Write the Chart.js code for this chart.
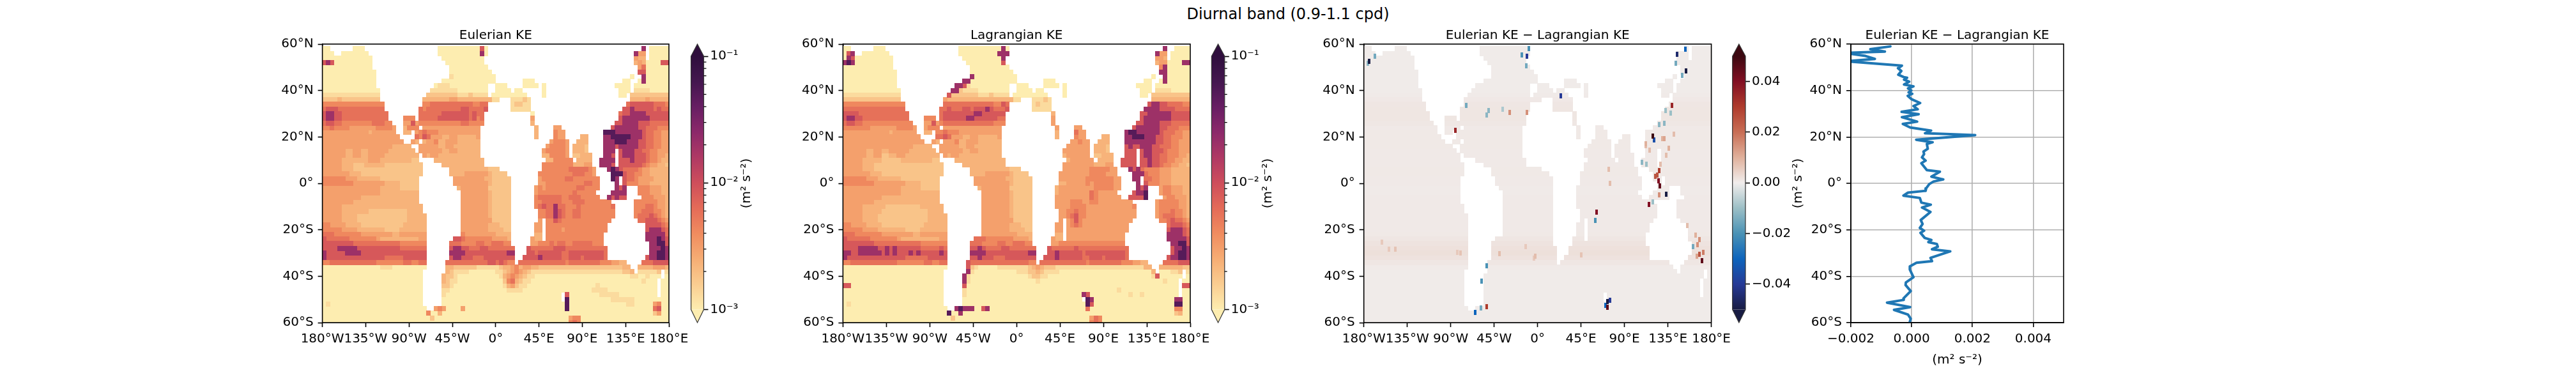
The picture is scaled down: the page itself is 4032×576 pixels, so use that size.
<!DOCTYPE html>
<html>
<head>
<meta charset="utf-8">
<title>Diurnal band</title>
<script src="https://cdn.jsdelivr.net/npm/chart.js@4"></script>
<style>
    html, body { margin: 0; background: #fff; width: 4032px; height: 576px; overflow: hidden; }
    canvas { position: absolute; top: 0; }
    #suptitle { position: absolute; left: 0; width: 4032px; top: 8px; text-align: center;
        font: 24px "DejaVu Sans"; line-height: 28px; color: #000; }
</style>
</head>
<body>
<div id="suptitle">Diurnal band (0.9-1.1 cpd)</div>
<canvas id="map1"></canvas><canvas id="bar1"></canvas>
<canvas id="map2"></canvas><canvas id="bar2"></canvas>
<canvas id="map3"></canvas><canvas id="bar3"></canvas>
<canvas id="profile"></canvas>
<script>
const lonTicks = [-180, -135, -90, -45, 0, 45, 90, 135, 180];
const lonLabels = ['180°W', '135°W', '90°W', '45°W', '0°', '45°E', '90°E', '135°E', '180°E'];
const latTicks = [-60, -40, -20, 0, 20, 40, 60];
const latLabels = ['60°S', '40°S', '20°S', '0°', '20°N', '40°N', '60°N'];
const keTicks = [0.001, 0.01, 0.1];
const keLabels = ['10⁻³', '10⁻²', '10⁻¹'];
const keMinorTicks = [0.002, 0.003, 0.004, 0.005, 0.006, 0.007, 0.008, 0.009, 0.02, 0.03, 0.04, 0.05, 0.06, 0.07, 0.08, 0.09];
const diffTicks = [-0.04, -0.02, 0, 0.02, 0.04];
const diffLabels = ['−0.04', '−0.02', '0.00', '0.02', '0.04'];
const profileTicks = [-0.002, 0, 0.002, 0.004];
const profileLabels = ['−0.002', '0.000', '0.002', '0.004'];

// colormaps, low to high
const matterStops = ['#fdedb0', '#facd91', '#f6ad74', '#f08c5f', '#e46b58', '#ce4e5b', '#af3964', '#8c296a', '#671e63', '#44174f', '#2f0f3d'];
const balanceStops = ['#181c43', '#263a96', '#0d64bc', '#4a92b5', '#9cbfc6', '#f1edec', '#e0b19c', '#c86e55', '#af3c2d', '#820f23', '#3c0911'];

// KE of each digit in the rows below, '.' is land
const keLevels = [0.001, 0.0013, 0.0018, 0.0023, 0.003, 0.0042, 0.0058, 0.0085, 0.02, 0.05];

// rows run from 58N to 60S every 2 degrees, columns from 178W to 178E every 4 degrees
const keEulerRows = [
    '00......00 0......... .......... 0000000000 070....... .......... .......... .......... ...8.00000',
    '000..00000 00........ .......... 0000000000 080....... .......... .......... .......... .844.00000',
    '0000000000 000....... .......... .000000000 00........ .......... .......... .......... .433.00000',
    '7870000000 000....... .......... ..00000000 00........ .......... .......... .......... .343000077',
    '0000000000 000....... .......... ...0000000 000....... .......... .......... .......... ..46000000',
    '0000000000 0000...... .......... ...0000000 0000...... .......... .......... .......... ..77000000',
    '0000000000 0000...... .......... ...1000000 00000..... .......... .......... .......... 0..8000000',
    '0000000000 0000...... .......... .000000000 00000..... ..000..... .......... ........00 ..08000000',
    '0000000000 0000...... .........0 1110000000 000..000.. ..0000.0.. .......... ......0000 .000000000',
    '0000000000 00000..... ........11 1111100000 000..0000. 00.....0.. .......... .......000 .111100000',
    '1111111111 11111..... .......222 2222211121 111.000000 000....0.. .......... .......00. 2222222222',
    '2222322222 22222..... ......3333 3334433333 333311...1 1121...... .......... .......... 3333433333',
    '5555555555 555555.... ......5566 6666666665 566......1 2211...... .......... .........6 7777776665',
    '6777666666 666666.... .....65666 6666667766 667......1 1111...... .......... ........77 8777776766',
    '7887766666 6666666... .....66666 6777777767 66........ ....0..... .......... .......677 8888777777',
    '7887766666 6666666... .555.66666 7777777767 56........ ....4..... .......... .......788 8888877777',
    '6776655555 55566655.. .447455555 5555556655 55........ ....3..... .......... ......7788 8877766666',
    '5565555444 444455554. .3555.4444 4444444444 4......... .....3.... 44........ .....78888 8877666555',
    '4444444444 443444444. .33.456555 4444444444 4......... .....3.... 544....... ...9998888 8887665544',
    '4444444444 4444444444 ....657644 4334433333 4......... .....3.... 544....33. ...8899999 8887665544',
    '4444444444 4444444444 4..43.3445 3344433333 3......... .........4 5554..333. ...8889998 8877665544',
    '4444444444 4444444433 333..44444 3344333333 3......... ........45 5554.3332. ...8887888 8877665544',
    '4444443344 3344444333 3333.44444 4334433333 3......... .......455 5554.3332. ...888.788 8776655444',
    '4444443344 3344443333 33333.4344 3333333333 3......... .......335 5554.22333 ...887.788 8777655443',
    '4444433333 3344433333 33322....3 3333333333 33........ ........33 55555.3333 ..8888.777 8777655433',
    '4444433322 2333332222 222222.... .333333333 33........ .......555 5555533344 ..8887.777 7776544332',
    '4444433322 2222222222 222222.... ...3333333 333222.... .......555 5555666665 4...898766 6654433333',
    '4444444333 2222222222 222222.... ...3333444 44432222.. ......5555 5555566655 4....99976 6554433333',
    '5555554443 3333322222 22222..... ....444444 443322222. ......4555 5556655555 55...98.76 6544443333',
    '5555555544 4444443333 22222..... ....444444 444322222. ......4455 5555555566 55....8.75 5544433333',
    '4444444444 4444433333 22222..... .....34444 444222222. .....45455 5555556655 55....878. ..55544433',
    '4444444444 4444433333 33333..... ......4444 444322222. .....45555 5555565555 5....8888. ..55544433',
    '4444444444 3333333333 33333..... ......4444 444322222. .....56666 6655666555 55..87877. ...5554443',
    '4444444433 3333333333 33333..... ......4444 444322222. .....55666 6655566655 55555..... .555555443',
    '4444433333 3333333333 333333.... ......4444 444322222. .....56766 8665556555 555556.... .555665443',
    '4444433333 3322222222 223333.... ......4444 444322222. ......5566 8765566555 555555.... .556665543',
    '4444433332 2222222222 2233333... ......4444 444322222. ......5566 8765566555 555555.... .566676543',
    '4444433332 2222222222 2233333... ......4444 444422222. ......4.55 7655555555 55555..... ..66777654',
    '5544443333 2222222222 2333333... ......4444 444333222. .....44.55 5555555555 5555...... ....777765',
    '5555544443 3333332222 3333333... ......4444 444333322. .....44.55 5545555555 5555...... ....788876',
    '6665555555 4444444433 4444444... ......5444 444443333. .....33.55 5555555555 555....... ....888886',
    '7666666555 5555433333 3333344... ....776555 555544443. ....433.55 5555555555 555....... ....888987',
    '7777777766 6666666666 5555555... ...6665555 665566655. ....445556 5665566666 555....... .....88997',
    '7777888887 7777777777 6666666... ...7887766 6776666666 ...7666666 7776666666 6666...... .....88898',
    '8777778888 7777777777 7777777... ...8888777 7777777788 ...7767777 7766777777 7776...... .....88998',
    '8777777777 7777776666 6777777... ...7887776 6677777777 ..77778777 7766777677 7776...... ....788998',
    '5566666666 6666555555 5665566... ..66666666 6667767655 .666666666 6665666666 665554433. ...6667777',
    '0000000000 0000011100 0000000... ..33222222 1111112334 5344332222 2222222222 2222222233 ..33334443',
    '0000000000 0000000000 000000.... ..32111100 0000011234 5432111111 1111111111 1111111122 3.111112.1',
    '0000000000 0000000000 000000.... .322100000 0000001345 4321100000 0000000000 0000000000 11001000.0',
    '0000000000 0000000000 000000.... .321100000 0000000256 3211000000 0000000000 0000000000 0001000.00',
    '0000000000 0000000000 000000.... .221000000 0000000134 2110000000 0000000000 0100000000 0000000.00',
    '0000000000 0000000000 000000.... .110000000 0000000011 1100000000 0000000000 1111000000 0000000.00',
    '0000000000 0000000000 000000.... .100000000 0000000000 0000000000 00.7000000 0011111000 0000000.00',
    '0000000000 0000000000 000000.... .000000000 0000000000 0000000000 00.9000000 0000011111 1000000000',
    '0100000000 0000000000 000000.... .000000000 0000000000 0000000000 0009000000 0000000001 1000004500',
    '0000000000 0000000000 0000000..4 5400004000 0000000000 0000000000 0009000000 0000000000 0000006700',
    '0000000000 0000000000 0000000500 3000000000 0000000000 0000000000 0000000000 0000000000 0000002400',
    '0000000000 0000000000 0000000020 0000000000 0000000000 0000000000 0000455000 0000000000 0000000000',
    '0000000000 0000000000 0000000000 0000000000 0000000000 0000000000 0000565000 0000000000 0000000000',
];

const keLagrRows = [
    '00......00 0......... .......... 0000000000 080....... .......... .......... .......... ...8..0000',
    '078..00000 00........ .......... 0000000000 888....... .......... .......... .......... .844.00000',
    '0870000000 000....... .......... .000000000 08........ .......... .......... .......... .443.00000',
    '8980000000 000....... .......... ..00000000 07........ .......... .......... .......... .344000088',
    '0000000000 000....... .......... ...0000000 000....... .......... .......... .......... ..58000000',
    '0000000000 0000...... .......... ...0000000 0000...... .......... .......... .......... ..88000000',
    '0000000000 0000...... .......... ...8000000 00000..... .......... .......... .......... 0..8000000',
    '0000000000 0000...... .......... .880000000 00000..... ..000..... .......... ........00 ..08000000',
    '0000000000 0000...... .........8 8710000000 000..000.. ..0000.0.. .......... ......0000 .000000000',
    '0000000000 00000..... ........88 2111100000 000..0000. 00.....0.. .......... .......000 .111100000',
    '1111111111 11111..... .......722 2222211121 111.000000 000....0.. .......... .......00. 2222222222',
    '2222222222 22222..... ......4333 3333333333 333311...1 1121...... .......... .......... 3333333333',
    '5555555555 555555.... ......6666 6666666665 576......1 2111...... .......... .........7 8877666655',
    '6666666666 666666.... .....66766 6776777876 667......1 1111...... .......... ........88 8877776666',
    '7777666666 6666666... .....67777 7777887777 77........ ....3..... .......... .......778 8888877777',
    '7887766666 6666666... .555.67777 7788777777 66........ ....4..... .......... .......788 8888877777',
    '6776655555 55555555.. .447456666 6666666665 55........ ....4..... .......... ......7788 8877766666',
    '5555555444 444455554. .4555.4444 4444444444 4......... .....4.... 44........ .....78888 8877666555',
    '4444444444 443444444. .33.556555 4444444444 4......... .....3.... 644....... ...8998888 8876665544',
    '4444444444 4444444444 ....667644 4334433333 4......... .....3.... 544....33. ...8899988 8776655544',
    '4444444444 4444444444 4..43.4445 3344433333 3......... .........4 4544..333. ...8888888 8776655444',
    '4444444444 4444444433 333..44444 3344333333 3......... ........44 4444.3332. ...7877888 7766655444',
    '4444443344 3344444333 3333.44444 4334433333 3......... .......444 4444.3332. ...777.788 7776555444',
    '4444443344 2233443333 33333.4344 3333333333 3......... .......344 4444.22333 ...777.788 7766555443',
    '4444433333 2222233333 33322....3 3333333333 33........ ........34 44444.3333 ..7777.778 7766554433',
    '4444433322 2222222222 222222.... .333333333 33........ .......444 4444433344 ..7777.778 7765544332',
    '4444433322 2222222222 222222.... ...3333333 333222.... .......444 4444555554 4...878655 5544433333',
    '4444444333 2222222222 222222.... ...3333444 44432222.. ......4444 4444555544 4....88865 5544433333',
    '5555554443 3333322222 22222..... ....444444 443322222. ......4444 4445555555 44...88.66 5544433333',
    '5555555544 4444443333 22222..... ....444444 444322222. ......3344 4445455555 44....8.75 5544433333',
    '4444444444 4444433333 22222..... .....34444 444222222. .....34444 4444455555 44....878. ..45544433',
    '4444444444 4444433333 33333..... ......4444 444322222. .....34444 4444654444 4....7889. ..45544433',
    '4444444444 3333333333 33333..... ......4444 444322222. .....44444 4444654444 44..77779. ...4554443',
    '4444444433 3333333333 33333..... ......4444 444322222. .....44445 5544554444 44444..... .455555443',
    '4444433333 3222222222 333333.... ......4444 444322222. .....44445 5554444444 444445.... .455555443',
    '4444433333 2222222222 223333.... ......4444 444322222. ......4455 6554444444 444444.... .455565543',
    '4444433332 2222222222 2233333... ......4444 444322222. ......4456 7554444444 444444.... .456665543',
    '4444433332 2222222222 2233333... ......4444 444422222. ......4.45 7544444444 44444..... ..55676654',
    '5544443333 2222222222 2333333... ......4444 444333222. .....44.45 6544444444 4444...... ....677765',
    '5555544443 3333332222 3333333... ......4444 444333322. .....44.44 4444444444 4444...... ....788876',
    '6665555555 4444444433 4444444... ......4444 444443333. .....33.44 4444444444 444....... ....888876',
    '7666666555 5555433333 3333344... ....666555 555544443. ....433.44 4444444444 444....... ....888887',
    '7777777766 6666666666 5555555... ...6665555 665566655. ....445555 5555555555 555....... .....88997',
    '7777888887 7878777777 6666676... ...7787666 6776666666 ...7666666 7666666666 6666...... .....78898',
    '8877888888 7878777878 7777787... ...8888777 7777777788 ...7787777 7767777777 7776...... .....78998',
    '8777777777 7777776666 6677777... ...7787776 6677777777 ..77787777 7766777677 7776...... ....788998',
    '5566666666 6666555555 5665566... ..76666666 6666666655 .666666666 6665666666 665554433. ...6666777',
    '0000000000 0000000000 0000000... ..72100000 1111111123 4322211111 1111111111 1111111133 ..33333322',
    '0000000000 0000000000 000000.... ..81000000 0000011122 3211110000 0000000000 0000000000 3.000112.1',
    '0000000000 0000000000 000000.... .810000000 0000000012 2110000000 0000000000 0000000000 17000000.0',
    '0000000000 0000000000 000000.... .810000000 0000000000 1000000000 0000000000 0000000000 0001000.00',
    '7700000000 0000000000 000000.... .700000000 0000000000 0000000000 0000000000 0000000000 0000000.77',
    '0000000000 0000000000 000000.... .100000000 0000000000 0000000000 0000000000 0100000000 0000000.00',
    '0000000000 0000000000 000000.... .100000000 0000000000 0000000000 0087000000 0000100100 0000000.00',
    '0000000000 0000000000 000000.... .000000000 0000000000 0000000000 00.9800000 0000000000 0000008800',
    '0100000000 0000000000 000000.... .000000000 0000000000 0000000000 0009700000 0000000000 0000009900',
    '0000000000 0000000000 0000000..8 9888007800 0000000000 0000000000 0006000000 0000000000 0000005500',
    '0000000000 0000000000 0000000900 8000000000 0000000000 0000000000 0000000000 0000000000 0000002300',
    '0000000000 0000000000 0000000020 0000000000 0000000000 0000000000 0000465000 0000000000 0000000000',
    '0000000000 0000000000 0000000000 0000000000 0000000000 0000000000 0000565000 0000000000 0000000000',
];

// background of the difference map per row, same rows as above
const diffBand = [
    0.0004, 0.0004, 0.0004, 0.0004, 0.0004, 0.0004, 0.0004, 0.0004, 0.0004, 0.0004,
    0.0005, 0.0008, 0.0011, 0.0012, 0.0012, 0.0012, 0.001, 0.0006, 0.0007, 0.0007,
    0.0007, 0.0007, 0.0006, 0.0006, 0.0006, 0.0006, 0.0007, 0.0007, 0.0006, 0.0006,
    0.0005, 0.0005, 0.0006, 0.0006, 0.0006, 0.0006, 0.0006, 0.0006, 0.0006, 0.0006,
    0.0007, 0.0011, 0.0016, 0.002, 0.0022, 0.0018, 0.0011, 0.0005, 0.0004, 0.0004,
    0.0004, 0.0004, 0.0004, 0.0004, 0.0004, 0.0004, 0.0004, 0.0004, 0.0004, 0.0004,
];

// isolated strong cells of the difference map
const diffSpotLon = [-174.6, -168.5, -176, -10.8, -16, -9, -12, 144.5, 152.8, 153.7, 149.6, 143.5, 139.5, 119.2, 121, 124.3, 122, 126, 125.3, 126.7, 133.4, 115.2, 119.2, 60.8, 60, 72.6, 70.3, 72.6, 75, -64.8, -59, -58, -53, -53, 170.6, 168, 166, 161.4, -85, -74, 24, 112.4, 108, 131, 136, 126, 132.7, -53, -36, -28.7, -10.8, -154.3, -83.4, -4,
    112, 116, 112.5, 129.5, 141, 133, 127.6, 163.7, 167.5, 171.8, 165, 155, 126, -161, -147.6, -80, -39.5, -12.5, -2.4, 45, 73.6, 75.3, -51, 137.8, 131];
const diffSpotLat = [52.5, 54.7, 51.7, 54.7, 55.4, 58, 50.7, 55.5, 57.8, 48.4, 46.6, 51.7, 33.5, 20.5, 18.8, 3.6, 3, 5.6, 1, -1, -4.8, -9, -8, -12.4, -16, -51, -52.6, -53.4, -50.4, -55.7, -53.6, -42, -35.4, -53, -33.2, -30.5, -26.3, -27.3, 22.8, 33.5, 37.7, 16.3, 9, 19.3, 15.2, 25.4, 31.5, 29.4, 32, 30.6, 30.6, -28.3, -29.8, -32.3,
    17, 14.2, 8.2, 19.3, 21.3, 12.2, 8.2, -22.2, -24.3, -29.8, -31.3, -18.2, -5, -25.3, -28.3, -30, -30.3, -27.3, -31.3, -30.8, 6.1, 0, 31.4, 30.4, 25.9];
const diffSpotVal = [-0.05, -0.015, -0.012, -0.04, -0.02, -0.02, -0.015, -0.045, -0.03, -0.05, -0.015, -0.015, 0.035, 0.05, -0.035, 0.025, 0.025, 0.03, 0.04, 0.045, -0.05, 0.04, -0.01, 0.04, -0.02, -0.05, -0.03, 0.045, -0.04, -0.03, -0.015, -0.02, -0.02, 0.03, 0.045, 0.025, 0.015, -0.015, 0.035, -0.015, -0.04, 0.008, -0.012, 0.012, 0.01, -0.012, -0.01, -0.012, -0.008, 0.015, 0.015, 0.006, 0.006, 0.006,
    0.01, 0.008, -0.01, 0.01, 0.008, 0.008, 0.008, 0.01, 0.015, 0.018, 0.012, 0.008, 0.015, 0.006, 0.007, 0.007, 0.008, 0.006, 0.008, 0.007, 0.008, 0.008, -0.012, -0.01, -0.012];

// zonal mean of the difference
const profileLat = [59, 57.8, 56.8, 56.2, 54.9, 53.6, 52.6, 50.7, 49.6, 48.4, 46.8, 45.8, 45.5, 44.7, 43.8, 42.6, 41.8, 40.9, 40, 39.2, 38.6, 37.7, 36.3, 34.6, 33.3, 31.9, 30.8, 29.8, 28.5, 26.6, 25.6, 24.1, 22.7, 21.6, 20.8, 18.8, 17.7, 17, 14.9, 13.7, 12.6, 11.2, 9.8, 8.7, 5.7, 5, 2.9, 1.7, 0.8, -0.3, -2.1, -3.2, -4, -5.3, -6.3, -8.3, -9.2, -10.4, -12.3, -15.8, -17.5, -19.2, -20.4, -21.3, -23.5, -24.4, -25.3, -26.1, -27.3, -28.4, -29.3, -32.1, -33.5, -34.2, -35.8, -37.1, -40.4, -42.7, -43.8, -46.4, -49.6, -50.2, -51.4, -53.3, -54.5, -56.5, -58.3, -59.7];
const profileDiff = [-0.0007, -0.00136, -0.00088, -0.00222, -0.00152, -0.00121, -0.00215, -0.00032, -0.00045, -0.00034, -0.00044, -0.00026, -0.00015, -0.00025, -0.00008, -0.00025, 0.00006, -0.00012, -0.00001, -0.0001, 0.00002, -0.00013, -0.00001, 0.00028, 0.00006, 0.0002, -0.00033, 0.00023, -0.00032, 0.00018, -0.00029, -0.00005, 0.00064, 0.00044, 0.00209, 0.00015, 0.00069, 0.0005, 0.00053, 0.00039, 0.00041, 0.00034, 0.00046, 0.00032, 0.0005, 0.00093, 0.00065, 0.00104, 0.00072, 0.00058, 0.00048, 0.00046, -0.00012, -0.00027, 0.00027, 0.00032, 0.00063, 0.00034, 0.00062, 0.0003, 0.00036, 0.00027, 0.00041, 0.00029, 0.00043, 0.00065, 0.00055, 0.00083, 0.00086, 0.00067, 0.00127, 0.00062, 0.00067, 0.00016, -0.00006, -0.00006, 0.00006, -0.00019, -0.0002, -0.00003, -0.00027, -0.00026, -0.00081, -0.00005, -0.00058, -0.00012, -0.00003, -0.00006];

Chart.defaults.font.family = '"DejaVu Sans"';
Chart.defaults.font.size = 20;
Chart.defaults.color = '#000';
Chart.defaults.animation = false;

function hexToRgb(hex) {
    return [1, 3, 5].map(i => parseInt(hex.slice(i, i + 2), 16));
}

function colorAt(stops, t) {
    const pos = Math.min(Math.max(t, 0), 1) * (stops.length - 1);
    const i = Math.min(Math.floor(pos), stops.length - 2);
    const a = hexToRgb(stops[i]);
    const b = hexToRgb(stops[i + 1]);
    const mix = a.map((c, k) => Math.round(c + (b[k] - c) * (pos - i)));
    return `rgb(${mix.join(',')})`;
}

function keColor(v) {
    return colorAt(matterStops, Math.log10(v / 0.001) / 2);
}

function diffColor(v) {
    return colorAt(balanceStops, (v + 0.05) / 0.1);
}

function makeCell(color, w, h) {
    const c = document.createElement('canvas');
    c.width = w;
    c.height = h;
    const g = c.getContext('2d');
    g.fillStyle = color;
    g.fillRect(0, 0, w, h);
    return c;
}

// one scatter dataset per value, each point drawn as a cell sized image.
// Chart.js paints the first dataset last, so the strongest values go first
function cellDatasets(points, colorOf, w, h) {
    const groups = new Map();
    for (const p of points) {
        if (!groups.has(p.v)) groups.set(p.v, []);
        groups.get(p.v).push({ x: p.x, y: p.y });
    }
    return [...groups.keys()].sort((a, b) => Math.abs(b) - Math.abs(a)).map(v => ({
        data: groups.get(v),
        pointStyle: makeCell(colorOf(v), w, h),
        pointRadius: 3,
        showLine: false,
        clip: 0
    }));
}

function gridPoints(rows, valueOf) {
    const points = [];
    rows.forEach((row, i) => {
        row.replace(/ /g, '').split('').forEach((ch, j) => {
            if (ch === '.') return;
            points.push({ x: -178 + 4 * j, y: 58 - 2 * i, v: valueOf(ch, i) });
        });
    });
    return points;
}

// frame and title, the title is centred on the axes and not on the canvas
function framePlugin(title) {
    return {
        id: 'frame',
        afterDraw(chart) {
            const { ctx, chartArea: a } = chart;
            ctx.save();
            ctx.strokeStyle = '#000';
            ctx.lineWidth = 1.6;
            ctx.strokeRect(a.left, a.top, a.right - a.left, a.bottom - a.top);
            ctx.font = '20px "DejaVu Sans"';
            ctx.fillStyle = '#000';
            ctx.textAlign = 'center';
            ctx.textBaseline = 'middle';
            ctx.fillText(title, (a.left + a.right) / 2, a.top - 13);
            ctx.restore();
        }
    };
}

function setExplicitTicks(values) {
    return scale => { scale.ticks = values.map(value => ({ value })); };
}

function placeCanvas(id, left, width) {
    const el = document.getElementById(id);
    el.width = Math.round(width);
    el.height = 576;
    el.style.left = left + 'px';
    return el;
}

function cartesianChart(id, canvasLeft, areaLeft, areaRight, title, datasets, xOptions, yOptions) {
    const el = placeCanvas(id, canvasLeft, areaRight - canvasLeft + 70);
    const leftWidth = areaLeft - canvasLeft;
    return new Chart(el, {
        type: 'scatter',
        data: { datasets },
        options: {
            responsive: false,
            events: [],
            layout: { padding: { top: 69, right: el.width - (areaRight - canvasLeft), bottom: 0, left: 0 } },
            plugins: { legend: { display: false }, tooltip: { enabled: false } },
            scales: {
                x: Object.assign({
                    type: 'linear',
                    afterFit: s => { s.height = 71; },
                    border: { color: '#000', width: 1.6 }
                }, xOptions),
                y: Object.assign({
                    type: 'linear',
                    min: -60,
                    max: 60,
                    afterFit: s => { s.width = leftWidth; },
                    afterBuildTicks: setExplicitTicks(latTicks),
                    border: { color: '#000', width: 1.6 },
                    ticks: { autoSkip: false, padding: 7, callback: (v, i) => latLabels[i] }
                }, yOptions)
            }
        },
        plugins: [framePlugin(title)]
    });
}

const tickOnlyGrid = { drawOnChartArea: false, tickLength: 7, tickColor: '#000', tickWidth: 1.6 };

function mapChart(id, canvasLeft, areaLeft, areaRight, title, datasets) {
    return cartesianChart(id, canvasLeft, areaLeft, areaRight, title, datasets, {
        min: -180,
        max: 180,
        afterBuildTicks: setExplicitTicks(lonTicks),
        grid: tickOnlyGrid,
        ticks: { autoSkip: false, maxRotation: 0, minRotation: 0, padding: 7, callback: (v, i) => lonLabels[i] }
    }, { grid: tickOnlyGrid });
}

function colorbar(id, canvasLeft, areaLeft, areaRight, stops, yOptions, extra) {
    const el = placeCanvas(id, canvasLeft, 130);
    const plugin = {
        id: 'colorbarExtras',
        afterDraw(chart) {
            const { ctx, chartArea: a } = chart;
            const cx = (a.left + a.right) / 2;
            ctx.save();
            [[a.top, 69, stops[stops.length - 1]], [a.bottom, 505, stops[0]]].forEach(([edge, tip, color]) => {
                ctx.beginPath();
                ctx.moveTo(a.left, edge);
                ctx.lineTo(cx, tip);
                ctx.lineTo(a.right, edge);
                ctx.closePath();
                ctx.fillStyle = color;
                ctx.fill();
            });
            ctx.strokeStyle = '#333';
            ctx.lineWidth = 1.2;
            ctx.beginPath();
            ctx.moveTo(a.left, a.top);
            ctx.lineTo(cx, 69);
            ctx.lineTo(a.right, a.top);
            ctx.lineTo(a.right, a.bottom);
            ctx.lineTo(cx, 505);
            ctx.lineTo(a.left, a.bottom);
            ctx.closePath();
            ctx.stroke();
            if (extra.minorTicks) {
                const scale = chart.scales.y;
                ctx.strokeStyle = '#000';
                ctx.beginPath();
                extra.minorTicks.forEach(v => {
                    const y = scale.getPixelForValue(v);
                    ctx.moveTo(a.right, y);
                    ctx.lineTo(a.right + 4, y);
                });
                ctx.stroke();
            }
            if (extra.unitX) {
                ctx.translate(extra.unitX - canvasLeft, 287);
                ctx.rotate(-Math.PI / 2);
                ctx.font = '20px "DejaVu Sans"';
                ctx.fillStyle = '#000';
                ctx.textAlign = 'center';
                ctx.textBaseline = 'middle';
                ctx.fillText('(m² s⁻²)', 0, 0);
            }
            ctx.restore();
        }
    };
    return new Chart(el, {
        type: 'bar',
        data: {
            labels: [''],
            datasets: [{
                data: [[yOptions.min, yOptions.max]],
                barPercentage: 1,
                categoryPercentage: 1,
                borderSkipped: false,
                backgroundColor: ctx => {
                    const a = ctx.chart.chartArea;
                    if (!a) return stops[0];
                    const g = ctx.chart.ctx.createLinearGradient(0, a.bottom, 0, a.top);
                    stops.forEach((c, i) => g.addColorStop(i / (stops.length - 1), c));
                    return g;
                }
            }]
        },
        options: {
            responsive: false,
            events: [],
            layout: { padding: { top: 88, bottom: 91.5, left: areaLeft - canvasLeft, right: 0 } },
            plugins: { legend: { display: false }, tooltip: { enabled: false } },
            scales: {
                x: { display: false },
                y: Object.assign({
                    position: 'right',
                    afterFit: s => { s.width = el.width - (areaRight - canvasLeft); },
                    grid: tickOnlyGrid,
                    border: { display: false },
                    ticks: { autoSkip: false, padding: 3, callback: (v, i) => extra.labels[i] }
                }, yOptions)
            }
        },
        plugins: [plugin]
    });
}

const keValueOf = ch => keLevels[Number(ch)];
const euler = cellDatasets(gridPoints(keEulerRows, keValueOf), keColor, 7, 8);
const lagr = cellDatasets(gridPoints(keLagrRows, keValueOf), keColor, 7, 8);
const diffSpots = diffSpotLon.map((lon, i) => ({ x: lon, y: diffSpotLat[i], v: diffSpotVal[i] }));
const diff = cellDatasets(diffSpots, diffColor, 4, 8)
    .concat(cellDatasets(gridPoints(keEulerRows, (ch, i) => diffBand[i]), diffColor, 7, 8));

mapChart('map1', 420, 504.6, 1047, 'Eulerian KE', euler);
colorbar('bar1', 1070, 1081.6, 1101.5, matterStops,
    { type: 'logarithmic', min: 0.001, max: 0.1, afterBuildTicks: setExplicitTicks(keTicks) },
    { labels: keLabels, minorTicks: keMinorTicks, unitX: 1169 });

mapChart('map2', 1235, 1319.4, 1863, 'Lagrangian KE', lagr);
colorbar('bar2', 1885, 1896.4, 1916.8, matterStops,
    { type: 'logarithmic', min: 0.001, max: 0.1, afterBuildTicks: setExplicitTicks(keTicks) },
    { labels: keLabels, minorTicks: keMinorTicks, unitX: 1985 });

mapChart('map3', 2050, 2134.7, 2678.6, 'Eulerian KE − Lagrangian KE', diff);
colorbar('bar3', 2700, 2711.7, 2732, balanceStops,
    { type: 'linear', min: -0.05, max: 0.05, afterBuildTicks: setExplicitTicks(diffTicks) },
    { labels: diffLabels });

cartesianChart('profile', 2803, 2897, 3230, 'Eulerian KE − Lagrangian KE', [{
    data: profileDiff.map((v, i) => ({ x: v, y: profileLat[i] })),
    showLine: true,
    pointRadius: 0,
    borderColor: '#1f77b4',
    borderWidth: 4,
    borderJoinStyle: 'round',
    borderCapStyle: 'round',
    clip: 0
}], {
    min: -0.002,
    max: 0.005,
    afterBuildTicks: setExplicitTicks(profileTicks),
    grid: { color: '#b0b0b0', lineWidth: 1.6, tickLength: 7, tickColor: '#000', tickWidth: 1.6 },
    ticks: { autoSkip: false, maxRotation: 0, minRotation: 0, padding: 7, callback: (v, i) => profileLabels[i] },
    title: { display: true, text: '(m² s⁻²)', font: { size: 20 }, color: '#000', padding: { top: 20, bottom: 0 } }
}, {
    grid: { color: '#b0b0b0', lineWidth: 1.6, tickLength: 7, tickColor: '#000', tickWidth: 1.6 },
    title: { display: true, text: '(m² s⁻²)', font: { size: 20 }, color: '#000', padding: 0 }
});
</script>
</body>
</html>
